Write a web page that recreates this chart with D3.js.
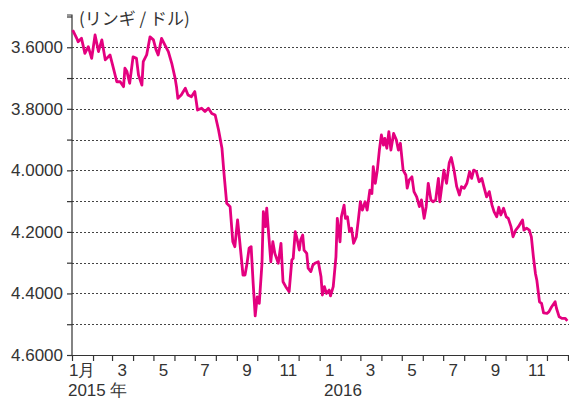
<!DOCTYPE html>
<html lang="ja">
<head>
<meta charset="UTF-8">
<title>リンギ / ドル</title>
<script src="https://d3js.org/d3.v7.min.js"></script>
<style>
  body { margin: 0; background: #fff; }
  svg { display: block; font-family: "Liberation Sans", Arial, "Noto Sans CJK JP", sans-serif; }
  .axis text { font-size: 17px; fill: #333; }
  .axis path, .axis line { stroke: #333; stroke-width: 1.2px; }
  .grid line { stroke: #444; stroke-width: 1.1px; stroke-dasharray: 2,2; }
  .rate-line { fill: none; stroke: #e4007f; stroke-width: 2.8px; stroke-linejoin: round; }
  .unit { font-size: 17px; fill: #333; font-family: "Noto Sans CJK JP", sans-serif; }
</style>
</head>
<body>
<div id="chart"></div>
<script>
// ringgit per US dollar
const dates = [
  "2015-01-02","2015-01-08","2015-01-10","2015-01-15","2015-01-20","2015-01-25","2015-01-30",
  "2015-02-04","2015-02-09","2015-02-14","2015-02-19","2015-02-26",
  "2015-03-03","2015-03-08","2015-03-13","2015-03-18","2015-03-20","2015-03-23","2015-03-27",
  "2015-04-01","2015-04-06","2015-04-09","2015-04-14","2015-04-16","2015-04-21","2015-04-26",
  "2015-05-01","2015-05-05","2015-05-08","2015-05-13","2015-05-18","2015-05-23","2015-05-28",
  "2015-06-02","2015-06-04","2015-06-06","2015-06-11","2015-06-17","2015-06-21","2015-06-26",
  "2015-07-01","2015-07-05","2015-07-11","2015-07-16","2015-07-21","2015-07-26","2015-07-31",
  "2015-08-05","2015-08-10","2015-08-13","2015-08-17","2015-08-22","2015-08-26","2015-08-29",
  "2015-09-02","2015-09-05","2015-09-10","2015-09-13","2015-09-16","2015-09-19","2015-09-22","2015-09-25","2015-09-28",
  "2015-10-01","2015-10-04","2015-10-08","2015-10-10","2015-10-13","2015-10-15","2015-10-17","2015-10-21","2015-10-24","2015-10-27",
  "2015-11-01","2015-11-05","2015-11-08","2015-11-12","2015-11-17","2015-11-21","2015-11-23","2015-11-26","2015-11-29",
  "2015-12-02","2015-12-04","2015-12-07","2015-12-09","2015-12-13","2015-12-15","2015-12-19","2015-12-22","2015-12-25","2015-12-30",
  "2016-01-03","2016-01-05","2016-01-08","2016-01-11","2016-01-15","2016-01-17","2016-01-21","2016-01-25","2016-01-27","2016-01-31",
  "2016-02-02","2016-02-06","2016-02-08","2016-02-11","2016-02-14","2016-02-17","2016-02-20","2016-02-24","2016-02-27",
  "2016-03-01","2016-03-04","2016-03-08","2016-03-11","2016-03-15","2016-03-18","2016-03-20","2016-03-23","2016-03-26","2016-03-29",
  "2016-04-01","2016-04-04","2016-04-06","2016-04-09","2016-04-12","2016-04-15","2016-04-19","2016-04-23","2016-04-26","2016-04-29",
  "2016-05-03","2016-05-07","2016-05-09","2016-05-12","2016-05-16","2016-05-19","2016-05-23","2016-05-27","2016-05-30",
  "2016-06-03","2016-06-06","2016-06-09","2016-06-13","2016-06-16","2016-06-20","2016-06-24","2016-06-26","2016-06-29",
  "2016-07-02","2016-07-06","2016-07-10","2016-07-13","2016-07-17","2016-07-21","2016-07-25","2016-07-28",
  "2016-08-01","2016-08-05","2016-08-09","2016-08-12","2016-08-15","2016-08-19","2016-08-23","2016-08-27","2016-08-30",
  "2016-09-03","2016-09-07","2016-09-11","2016-09-14","2016-09-18","2016-09-21","2016-09-24","2016-09-28",
  "2016-10-02","2016-10-05","2016-10-09","2016-10-12","2016-10-16","2016-10-20","2016-10-23","2016-10-26","2016-10-28",
  "2016-11-01","2016-11-05","2016-11-08","2016-11-11","2016-11-14","2016-11-16","2016-11-20","2016-11-23","2016-11-26",
  "2016-12-01","2016-12-04","2016-12-08","2016-12-13","2016-12-15","2016-12-19","2016-12-23","2016-12-28","2016-12-31"
];
const rates = [
  3.544,3.571,3.582,3.571,3.620,3.598,3.636,
  3.560,3.614,3.576,3.641,3.625,
  3.668,3.712,3.712,3.728,3.668,3.679,3.717,
  3.631,3.636,3.690,3.723,3.647,3.625,3.566,
  3.576,3.609,3.625,3.571,3.593,3.614,3.652,
  3.701,3.728,3.766,3.755,3.733,3.755,3.761,
  3.744,3.804,3.798,3.809,3.798,3.815,3.820,
  3.869,3.928,4.010,4.107,4.118,4.232,4.248,
  4.161,4.226,4.340,4.340,4.302,4.253,4.248,4.367,4.473,
  4.411,4.432,4.302,4.134,4.183,4.123,4.183,4.297,4.232,4.270,
  4.302,4.237,4.362,4.378,4.394,4.291,4.286,4.199,4.226,
  4.259,4.226,4.210,4.259,4.270,4.318,4.329,4.308,4.302,4.297,
  4.346,4.405,4.378,4.400,4.389,4.408,4.378,4.281,4.156,4.232,
  4.151,4.113,4.156,4.151,4.199,4.188,4.237,4.216,4.161,
  4.102,4.129,4.102,4.129,4.064,4.075,3.988,4.042,3.999,3.934,
  3.885,3.918,3.896,3.928,3.874,3.934,3.880,3.901,3.934,3.912,
  3.999,4.015,4.058,4.031,4.021,4.069,4.086,4.118,4.096,
  4.156,4.118,4.042,4.096,4.102,4.096,4.026,4.102,4.053,
  3.999,4.042,3.975,3.958,3.999,4.053,4.080,4.053,
  4.058,4.042,4.004,4.026,3.999,4.004,4.037,4.026,4.053,
  4.086,4.069,4.113,4.134,4.151,4.120,4.145,4.123,
  4.151,4.156,4.183,4.216,4.194,4.183,4.172,4.161,4.194,
  4.188,4.194,4.216,4.281,4.335,4.356,4.427,4.432,4.463,
  4.465,4.459,4.443,4.427,4.448,4.476,4.481,4.481,4.489
];

const yTicks = [3.5, 3.6, 3.7, 3.8, 3.9, 4.0, 4.1, 4.2, 4.3, 4.4, 4.5, 4.6];
const yLabels = [3.6, 3.8, 4.0, 4.2, 4.4, 4.6];
const monthLabels = ["1月", "3", "5", "7", "9", "11", "1", "3", "5", "7", "9", "11"];
const yearLabels = ["2015 年", "2016"];
const unitLabel = "(リンギ / ドル)";

const width = 569, height = 401;
const margin = { top: 16.5, right: 1, bottom: 46, left: 72 };

const parse = d3.timeParse("%Y-%m-%d");
const data = dates.map((d, i) => ({ date: parse(d), rate: rates[i] }));

const svg = d3.select("#chart").append("svg")
    .attr("width", width)
    .attr("height", height);

const x = d3.scaleTime()
    .domain([new Date(2015, 0, 1), new Date(2017, 0, 1)])
    .range([margin.left, width - margin.right]);

// rate axis runs downward: weaker ringgit lower
const y = d3.scaleLinear()
    .domain([3.5, 4.6])
    .range([margin.top, height - margin.bottom]);

// dotted grid
svg.append("g")
    .attr("class", "grid")
    .selectAll("line")
    .data(yTicks.filter(v => v > 3.55 && v < 4.55))
    .join("line")
    .attr("x1", margin.left)
    .attr("x2", width)
    .attr("y1", d => Math.round(y(d)) + 0.5)
    .attr("y2", d => Math.round(y(d)) + 0.5);

// y axis
const yAxis = d3.axisLeft(y)
    .tickValues(yTicks)
    .tickSize(5)
    .tickPadding(4)
    .tickFormat(d => yLabels.some(v => Math.abs(v - d) < 1e-6) ? d.toFixed(4) : "");

const yG = svg.append("g")
    .attr("class", "axis")
    .attr("transform", `translate(${margin.left},0)`)
    .call(yAxis);
yG.select(".domain").attr("d", `M-5,${y(3.5) - 1.5}H0V${y(4.6)}`);

// x axis with month ticks
const months = d3.timeMonth.range(new Date(2015, 0, 1), new Date(2017, 0, 2));
const xAxis = d3.axisBottom(x)
    .tickValues(months)
    .tickSize(6)
    .tickSizeOuter(0)
    .tickFormat("");

const xG = svg.append("g")
    .attr("class", "axis")
    .attr("transform", `translate(0,${y(4.6)})`)
    .call(xAxis);

// month labels sit in the middle of odd months
const labelMonths = months.filter((m, i) => i % 2 === 0 && i < 24);
const mid = m => x(new Date(m.getFullYear(), m.getMonth(), 16));

const mLabels = xG.selectAll(".mlabel")
    .data(labelMonths)
    .join("text")
    .attr("class", "mlabel")
    .attr("x", mid)
    .attr("y", 21)
    .attr("text-anchor", "middle")
    .text((d, i) => monthLabels[i]);

// year labels start under the January label
const janNodes = mLabels.filter(d => d.getMonth() === 0).nodes();
xG.selectAll(".ylabel")
    .data(yearLabels)
    .join("text")
    .attr("class", "ylabel")
    .attr("x", (d, i) => janNodes[i].getBBox().x - 1)
    .attr("y", 41)
    .attr("text-anchor", "start")
    .text(d => d);

// unit label
svg.append("text")
    .attr("class", "unit")
    .attr("x", 79)
    .attr("y", 25)
    .text(unitLabel);

// rate line
const line = d3.line()
    .x(d => x(d.date))
    .y(d => y(d.rate));

svg.append("path")
    .datum(data)
    .attr("class", "rate-line")
    .attr("d", line);
</script>
</body>
</html>
